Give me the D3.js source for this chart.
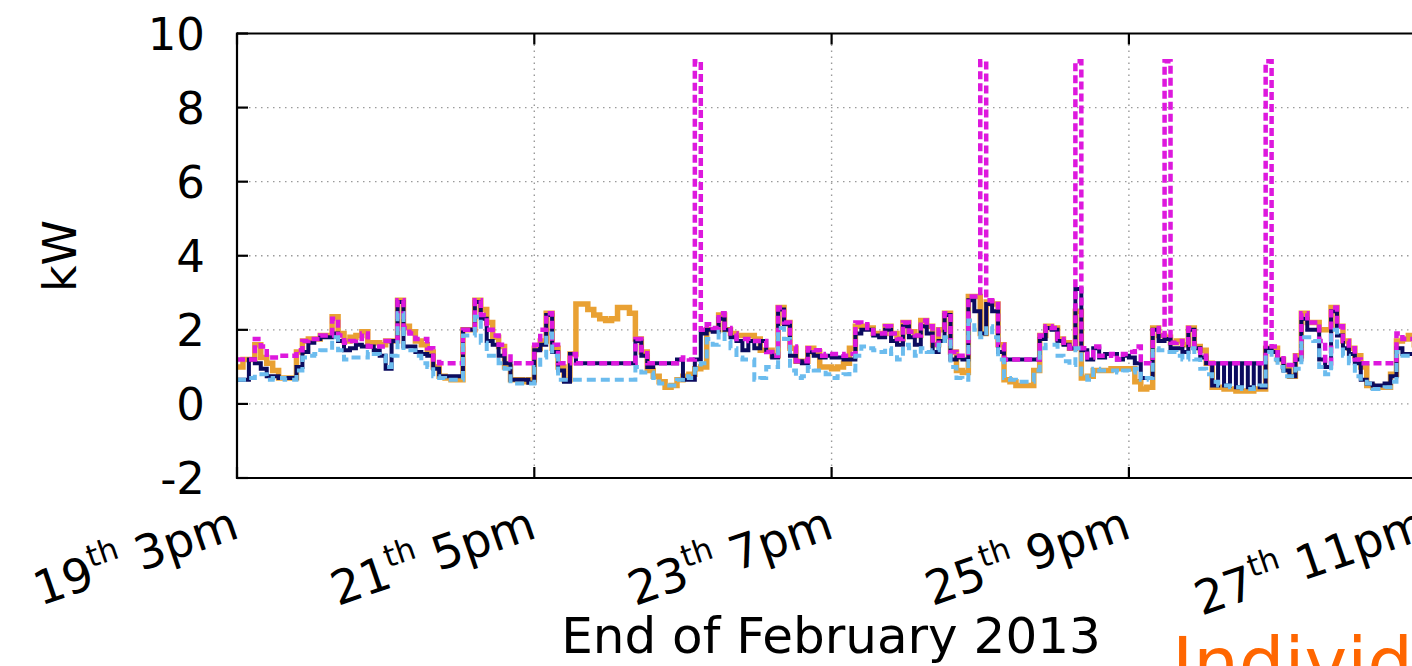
<!DOCTYPE html>
<html>
<head>
<meta charset="utf-8">
<script src="https://cdn.jsdelivr.net/npm/d3@7"></script>
<style>
  html, body { margin: 0; padding: 0; background: #fff; overflow: hidden; }
  svg text { font-family: "DejaVu Sans", Verdana, sans-serif; }
</style>
</head>
<body>
<svg id="chart"></svg>
<script>
// Hourly power readings, end of February 2013 (index = hours after 19th 3pm)

const yTicks = [-2, 0, 2, 4, 6, 8, 10];
const xTickHours = [0, 50, 100, 150, 200];
const xTickDays = ["19", "21", "23", "25", "27"];
const xTickTimes = ["3pm", "5pm", "7pm", "9pm", "11pm"];

const orangeKW = [
  1.0, 1.2, 1.2, 1.6, 1.25, 1.1, 0.9, 0.7, 0.7, 0.7,
  1.4, 1.7, 1.75, 1.75, 1.85, 1.85, 2.35, 1.9, 1.7, 1.8,
  1.85, 1.95, 1.65, 1.65, 1.6, 1.7, 1.7, 2.8, 2.1, 1.95,
  1.7, 1.6, 1.4, 1.0, 0.75, 0.7, 0.65, 0.65, 2.0, 2.0,
  2.8, 2.55, 2.2, 1.8, 1.55, 1.0, 0.65, 0.65, 0.6, 0.65,
  1.5, 1.7, 2.45, 1.5, 1.0, 0.65, 1.35, 2.7, 2.7, 2.55,
  2.4, 2.3, 2.25, 2.3, 2.6, 2.6, 2.45, 1.75, 1.4, 0.9,
  0.75, 0.6, 0.45, 0.5, 0.65, 0.75, 0.8, 0.95, 1.0, 2.0,
  2.0, 2.4, 2.0, 1.9, 1.85, 1.85, 1.85, 1.75, 1.45, 1.45,
  1.3, 2.6, 2.2, 1.5, 1.15, 1.15, 1.5, 1.4, 1.0, 1.0,
  0.95, 1.0, 1.1, 1.5, 2.1, 2.1, 2.05, 1.9, 1.9, 2.1,
  1.9, 1.75, 2.2, 1.95, 1.85, 2.25, 2.1, 1.6, 2.0, 2.45,
  1.4, 0.9, 0.85, 2.9, 2.9, 1.9, 2.75, 2.7, 1.6, 0.65,
  0.6, 0.5, 0.5, 0.5, 0.9, 1.85, 2.1, 2.05, 1.75, 1.65,
  1.5, 2.5, 0.7, 0.75, 0.9, 0.9, 0.9, 0.95, 0.95, 0.95,
  0.95, 0.6, 0.4, 0.45, 2.05, 1.85, 1.8, 1.65, 1.7, 1.6,
  2.05, 1.55, 1.45, 1.1, 0.45, 0.45, 0.4, 0.4, 0.35, 0.35,
  0.35, 0.4, 0.4, 1.5, 1.5, 1.2, 1.0, 0.75, 1.3, 2.45,
  2.2, 2.2, 2.0, 2.0, 2.6, 2.1, 1.7, 1.5, 1.3, 1.0,
  0.5, 0.45, 0.45, 0.45, 0.8, 1.7, 1.75, 1.85, 1.6
];

const navyKW = [
  0.65, 0.65, 1.2, 1.1, 0.95, 0.75, 0.75, 0.7, 0.7, 0.7,
  1.0, 1.4, 1.65, 1.75, 1.8, 1.8, 1.9, 1.7, 1.45, 1.5,
  1.6, 1.55, 1.55, 1.45, 1.3, 0.95, 1.7, 2.75, 1.55, 1.55,
  1.4, 1.35, 1.3, 0.95, 0.75, 0.75, 0.75, 0.75, 2.0, 2.0,
  2.75, 2.3, 1.7, 1.6, 1.3, 1.1, 0.65, 0.65, 0.65, 0.57,
  1.45, 1.6, 2.4, 1.4, 0.9, 0.6, 1.35, 1.1, 1.1, 1.1,
  1.1, 1.1, 1.1, 1.1, 1.1, 1.1, 1.1, 1.7, 1.3, 1.0,
  1.1, 1.1, 1.1, 1.1, 1.2, 0.65, 0.65, 1.2, 1.9, 2.0,
  1.95, 2.3, 2.0, 1.8, 1.7, 1.45, 1.7, 1.5, 1.7, 1.4,
  1.25, 2.55, 2.15, 1.3, 1.15, 1.1, 1.4, 1.3, 1.25, 1.3,
  1.25, 1.25, 1.2, 1.2, 1.9, 2.0, 2.0, 1.85, 1.8, 2.0,
  1.7, 1.6, 2.1, 1.8, 1.6, 2.1, 1.9, 1.4, 1.7, 2.4,
  1.2, 1.25, 1.2, 2.8, 2.5, 1.9, 2.7, 2.5, 1.4, 1.2,
  1.2, 1.2, 1.2, 1.2, 1.2, 1.75, 2.05, 2.0, 1.7, 1.6,
  1.5, 3.1, 1.45, 1.2, 1.5, 1.25, 1.35, 1.35, 1.2, 1.3,
  1.25, 1.1, 0.7, 0.7, 2.0, 1.7, 1.75, 1.5, 1.5, 1.4,
  2.0, 1.5, 1.25, 1.1, 0.5, 1.1, 0.5, 1.1, 0.45, 1.1,
  0.45, 1.1, 0.45, 1.5, 1.4, 1.2, 0.9, 0.75, 1.2, 2.3,
  2.0, 2.0, 1.2, 1.0, 2.5, 1.85, 1.5, 1.35, 1.1, 0.65,
  0.55, 0.5, 0.5, 0.55, 0.75, 1.5, 1.35, 1.35, 1.2
];

const magentaKW = [
  1.2, 1.2, 1.2, 1.75, 1.55, 1.25, 1.25, 1.3, 1.3, 1.3,
  1.45, 1.7, 1.75, 1.75, 1.85, 1.85, 2.3, 1.85, 1.65, 1.7,
  1.75, 1.9, 1.55, 1.55, 1.55, 1.7, 1.7, 2.8, 2.05, 1.9,
  1.75, 1.75, 1.5, 1.2, 1.1, 1.1, 1.1, 1.1, 2.0, 2.0,
  2.8, 2.4, 2.0, 1.85, 1.6, 1.35, 1.1, 1.1, 1.1, 1.1,
  1.6, 2.0, 2.45, 1.6, 1.1, 1.1, 1.35, 1.1, 1.1, 1.1,
  1.1, 1.1, 1.1, 1.1, 1.1, 1.1, 1.1, 1.75, 1.45, 1.1,
  1.1, 1.1, 1.1, 1.1, 1.2, 1.25, 1.2, 9.25, 2.0, 2.15,
  2.05, 2.45, 2.05, 1.9, 1.75, 1.75, 1.7, 1.7, 1.7, 1.4,
  1.3, 2.6, 2.2, 1.55, 1.15, 1.15, 1.5, 1.45, 1.3, 1.35,
  1.35, 1.35, 1.3, 1.35, 2.2, 2.15, 2.05, 1.9, 1.9, 2.1,
  1.9, 1.75, 2.2, 1.95, 1.85, 2.25, 2.1, 1.6, 2.0, 2.45,
  1.4, 1.3, 1.3, 2.9, 2.9, 9.25, 2.8, 2.7, 1.6, 1.2,
  1.2, 1.2, 1.2, 1.2, 1.2, 1.85, 2.1, 2.05, 1.75, 1.65,
  1.5, 9.25, 1.5, 1.25, 1.55, 1.3, 1.3, 1.35, 1.2, 1.35,
  1.4, 1.55, 1.1, 1.1, 2.05, 1.85, 9.25, 1.65, 1.7, 1.6,
  2.05, 1.55, 1.3, 1.1, 1.1, 1.1, 1.1, 1.1, 1.1, 1.1,
  1.1, 1.1, 1.1, 9.25, 1.55, 1.3, 1.05, 1.05, 1.3, 2.45,
  2.2, 2.2, 1.7, 1.1, 2.6, 2.1, 1.7, 1.5, 1.2, 1.1,
  1.1, 1.1, 1.1, 1.1, 1.1, 1.9, 1.75, 1.75, 1.65
];

const lightBlueKW = [
  0.65, 0.65, 0.7, 0.8, 0.8, 0.65, 0.7, 0.7, 0.65, 0.65,
  0.9, 1.25, 1.3, 1.35, 1.45, 1.45, 1.8, 1.45, 1.2, 1.25,
  1.25, 1.25, 1.4, 1.35, 1.3, 1.0, 1.3, 2.45, 1.45, 1.45,
  1.3, 1.1, 1.0, 0.75, 0.7, 0.65, 0.65, 0.65, 1.85, 1.85,
  2.35, 1.65, 1.3, 1.3, 1.1, 0.95, 0.55, 0.55, 0.55, 0.55,
  1.0, 1.25, 1.9, 1.3, 0.65, 0.65, 0.65, 0.65, 0.65, 0.65,
  0.65, 0.65, 0.65, 0.65, 0.65, 0.65, 0.65, 1.0, 0.85, 0.85,
  0.7, 0.55, 0.5, 0.5, 0.65, 0.75, 0.7, 0.95, 1.1, 1.75,
  1.6, 1.95, 1.7, 1.5, 1.25, 1.2, 1.2, 0.65, 0.7, 1.0,
  1.0, 2.05, 1.75, 0.9, 0.7, 0.75, 1.0, 0.9, 0.9, 0.8,
  0.7, 0.75, 0.8, 0.9, 1.3, 1.55, 1.5, 1.45, 1.4, 1.5,
  1.35, 1.2, 1.6, 1.5, 1.3, 1.5, 1.4, 1.45, 1.6, 1.8,
  1.0, 0.7, 0.65, 2.25, 2.0, 1.8, 2.1, 1.8, 1.2, 0.7,
  0.65, 0.6, 0.6, 0.6, 0.9, 1.5, 1.6, 1.6, 1.3, 1.15,
  1.05, 1.5, 0.8, 0.65, 0.95, 0.9, 0.9, 0.9, 0.85, 0.9,
  0.85, 0.95, 0.65, 0.7, 1.5, 1.45, 1.4, 1.4, 1.3, 1.2,
  1.5, 1.2, 0.95, 0.8, 0.6, 0.5, 0.5, 0.45, 0.45, 0.4,
  0.4, 0.45, 0.5, 1.4, 1.2, 1.0, 0.75, 0.75, 0.95, 1.8,
  1.8, 1.7, 1.0, 0.8, 2.0, 1.55, 1.3, 1.1, 0.75, 0.6,
  0.55, 0.4, 0.4, 0.45, 0.6, 1.4, 1.3, 1.3, 1.2
];

const width = 1412;
const height = 666;

const svg = d3.select("#chart")
  .attr("width", width)
  .attr("height", height);

// plot box: left edge 237, runs past the right edge of the picture
const x = d3.scaleLinear().domain([0, 210]).range([237, 237 + 210 * 5.946]);
const y = d3.scaleLinear().domain([-2, 10]).range([478, 33.5]);

// grid
const grid = svg.append("g")
  .attr("stroke", "#9a9a9a")
  .attr("stroke-width", 1.4)
  .attr("stroke-dasharray", "1.5,4.5");

grid.selectAll("line.h")
  .data(yTicks.filter(function (d) { return d > -2 && d < 10; }))
  .enter().append("line")
  .attr("x1", x(0)).attr("x2", x(210))
  .attr("y1", function (d) { return y(d); })
  .attr("y2", function (d) { return y(d); });

grid.selectAll("line.v")
  .data(xTickHours.filter(function (d) { return d > 0; }))
  .enter().append("line")
  .attr("x1", function (d) { return x(d); })
  .attr("x2", function (d) { return x(d); })
  .attr("y1", y(-2)).attr("y2", y(10));

// series, drawn as hourly steps
const line = d3.line()
  .x(function (d, i) { return x(i); })
  .y(function (d) { return y(d); })
  .curve(d3.curveStepAfter);

function withEnd(arr) {
  return arr.concat([arr[arr.length - 1]]);
}

const series = [
  { data: orangeKW,    color: "#e9a133", width: 5.5, dash: null },
  { data: navyKW,      color: "#0b0b5e", width: 4,   dash: null },
  { data: magentaKW,   color: "#dd18dd", width: 4.5, dash: "8,4" },
  { data: lightBlueKW, color: "#6cbcee", width: 4,   dash: "9,5" }
];

const plot = svg.append("g");
series.forEach(function (s) {
  plot.append("path")
    .datum(withEnd(s.data))
    .attr("d", line)
    .attr("fill", "none")
    .attr("stroke", s.color)
    .attr("stroke-width", s.width)
    .attr("stroke-linejoin", "miter")
    .attr("stroke-dasharray", s.dash);
});

// frame + inward ticks
const frame = svg.append("g").attr("stroke", "#000").attr("stroke-width", 2.2);
frame.append("line").attr("x1", x(0)).attr("x2", x(0)).attr("y1", y(10) - 1).attr("y2", y(-2) + 1);
frame.append("line").attr("x1", x(0)).attr("x2", x(210)).attr("y1", y(10)).attr("y2", y(10));
frame.append("line").attr("x1", x(0)).attr("x2", x(210)).attr("y1", y(-2)).attr("y2", y(-2));

frame.selectAll("line.yt")
  .data(yTicks)
  .enter().append("line")
  .attr("x1", x(0)).attr("x2", x(0) + 11)
  .attr("y1", function (d) { return y(d); })
  .attr("y2", function (d) { return y(d); });

frame.selectAll("line.xt")
  .data(xTickHours)
  .enter().append("line")
  .attr("x1", function (d) { return x(d); })
  .attr("x2", function (d) { return x(d); })
  .attr("y1", y(-2)).attr("y2", y(-2) - 11);

frame.selectAll("line.xt2")
  .data(xTickHours)
  .enter().append("line")
  .attr("x1", function (d) { return x(d); })
  .attr("x2", function (d) { return x(d); })
  .attr("y1", y(10)).attr("y2", y(10) + 11);

// y tick labels
svg.append("g").selectAll("text")
  .data(yTicks)
  .enter().append("text")
  .attr("x", 205)
  .attr("y", function (d) { return y(d) + 16; })
  .attr("text-anchor", "end")
  .attr("font-size", 45)
  .attr("fill", "#000")
  .text(function (d) { return d; });

// x tick labels (rotated, with superscript "th")
const xl = svg.append("g").selectAll("text")
  .data(xTickHours)
  .enter().append("text")
  .attr("text-anchor", "end")
  .attr("font-size", 47)
  .attr("fill", "#000")
  .attr("transform", function (d) {
    return "translate(" + (x(d) + 4) + ",537) rotate(-19)";
  });

xl.append("tspan").text(function (d, i) { return xTickDays[i]; });
xl.append("tspan").attr("dy", -20).attr("font-size", 31).text("th");
xl.append("tspan").attr("dy", 20).text(function (d, i) { return "\u00a0" + xTickTimes[i]; });

// axis titles
svg.append("text")
  .attr("transform", "translate(76,256) rotate(-90)")
  .attr("text-anchor", "middle")
  .attr("font-size", 46)
  .text("kW");

svg.append("text")
  .attr("x", 831)
  .attr("y", 653)
  .attr("text-anchor", "middle")
  .attr("font-size", 50)
  .text("End of February 2013");

svg.append("text")
  .attr("x", 1172)
  .attr("y", 688)
  .attr("font-family", "'Open Sans', sans-serif")
  .attr("font-size", 72)
  .attr("fill", "#ff6600")
  .text("Individual");
</script>
</body>
</html>
